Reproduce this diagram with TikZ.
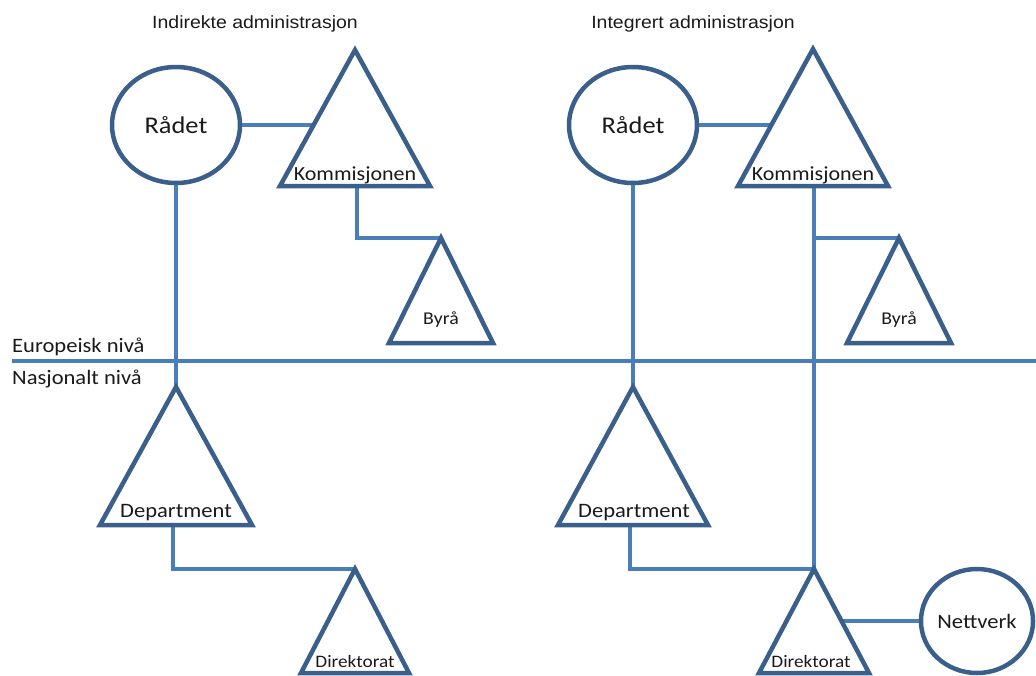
\documentclass[tikz,border=0pt]{standalone}
\usepackage{fontspec}
\usetikzlibrary{shapes.geometric}
\newfontfamily\lblfont[FakeStretch=1.1]{Carlito}
\newfontfamily\headfont[FakeStretch=1.1]{Liberation Sans}
\definecolor{outl}{HTML}{3A5F8B}
\definecolor{conn}{HTML}{4A7EBB}
\definecolor{txt}{HTML}{1A1A1A}

\begin{document}
\begin{tikzpicture}[x=1pt,y=-1pt,
  tri/.style={draw=outl,line width=4.5pt,line join=miter},
  org/.style={draw=outl,line width=4.5pt,ellipse,inner sep=0pt,text=txt},
  link/.style={draw=conn,line width=3.2pt},
  lbl/.style={font=\lblfont\fontsize{#1}{#1}\selectfont,anchor=base,text=txt},
  lbl/.default=20.5,
  head/.style={font=\headfont\fontsize{17.7}{20}\selectfont,anchor=base,text=txt}]
  \useasboundingbox (0,0) rectangle (1036,675);

  % headings
  \node[head] (indir) at (255,28) {Indirekte administrasjon};
  \node[head] (integ) at (693,28) {Integrert administrasjon};

  % level line
  \coordinate (lvlA) at (12,361);
  \coordinate (lvlB) at (1036,361);
  \draw[link] (lvlA) -- (lvlB);
  \node[lbl,anchor=base west,inner xsep=0pt] (eu) at (12,352) {Europeisk nivå};
  \node[lbl,anchor=base west,inner xsep=0pt] (nat) at (12,384) {Nasjonalt nivå};

  % indirekte
  \node[org,minimum width=128,minimum height=116,font=\lblfont\fontsize{24}{24}\selectfont] (radetL) at (176,125) {Rådet};
  \coordinate (kommL) at (355,50);
  \coordinate (kommL-w) at (314,125);
  \coordinate (kommL-b) at (357,186);
  \coordinate (byraL) at (441,238);
  \coordinate (depL) at (176,387);
  \coordinate (depL-b) at (173,525);
  \coordinate (dirL) at (355,569);

  \draw[link] (radetL.east) -- (kommL-w);
  \draw[link] (radetL.south) -- (depL);
  \draw[link] (kommL-b) |- (byraL);
  \draw[link] (depL-b) |- (dirL);

  \draw[tri] (kommL) -- ++(75,136) -- ++(-150,0) -- cycle;
  \draw[tri] (byraL) -- ++(52,105) -- ++(-104,0) -- cycle;
  \draw[tri] (depL) -- ++(76,138) -- ++(-152,0) -- cycle;
  \draw[tri] (dirL) -- ++(54,104) -- ++(-108,0) -- cycle;

  \node[lbl=20] (kommL-t) at (355,180) {Kommisjonen};
  \node[lbl=18] (byraL-t) at (441,324) {Byrå};
  \node[lbl] (depL-t) at (176,517) {Department};
  \node[lbl=17.5] (dirL-t) at (355,667) {Direktorat};

  % integrert
  \node[org,minimum width=128,minimum height=116,font=\lblfont\fontsize{24}{24}\selectfont] (radetR) at (633,125) {Rådet};
  \coordinate (kommR) at (813,49);
  \coordinate (kommR-w) at (771,125);
  \coordinate (kommR-b) at (814,186);
  \coordinate (byraR) at (899,238);
  \coordinate (depR) at (633,387);
  \coordinate (depR-b) at (630,525);
  \coordinate (dirR) at (814,569);
  \coordinate (dirR-e) at (841,621);
  \node[org,minimum width=106,minimum height=104,font=\lblfont\fontsize{20.5}{20.5}\selectfont] (nett) at (977,621) {Nettverk};

  \draw[link] (radetR.east) -- (kommR-w);
  \draw[link] (radetR.south) -- (depR);
  \draw[link] (kommR-b) -- (dirR);
  \draw[link] (kommR-b |- byraR) -- (byraR);
  \draw[link] (depR-b) |- (dirR);
  \draw[link] (dirR-e) -- (nett.west);

  \draw[tri] (kommR) -- ++(75,137) -- ++(-150,0) -- cycle;
  \draw[tri] (byraR) -- ++(52,105) -- ++(-104,0) -- cycle;
  \draw[tri] (depR) -- ++(75,138) -- ++(-150,0) -- cycle;
  \draw[tri] (dirR) -- ++(55,104) -- ++(-110,0) -- cycle;

  \node[lbl=20] (kommR-t) at (813,180) {Kommisjonen};
  \node[lbl=18] (byraR-t) at (899,324) {Byrå};
  \node[lbl] (depR-t) at (634,517) {Department};
  \node[lbl=17.5] (dirR-t) at (811,667) {Direktorat};
\end{tikzpicture}
\end{document}
